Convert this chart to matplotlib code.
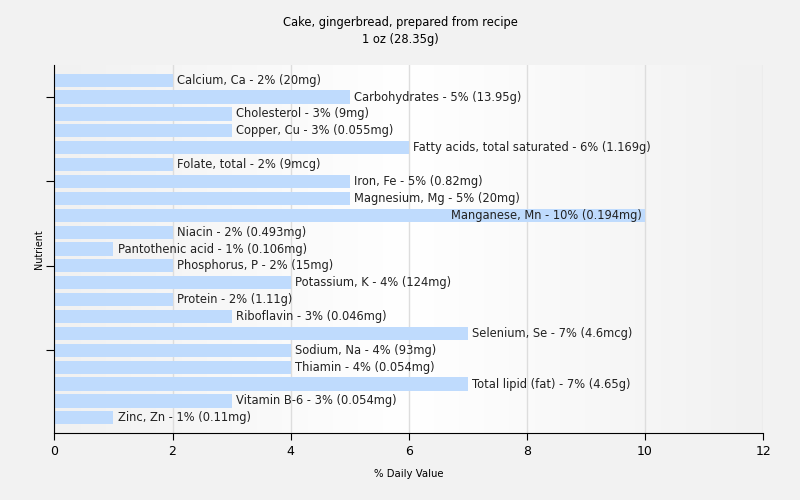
import numpy as np
import matplotlib
matplotlib.use('Agg')
import matplotlib.pyplot as plt

# 데이터
nutrients = ['Calcium, Ca', 'Carbohydrates', 'Cholesterol', 'Copper, Cu',
             'Fatty acids, total saturated', 'Folate, total', 'Iron, Fe',
             'Magnesium, Mg', 'Manganese, Mn', 'Niacin', 'Pantothenic acid',
             'Phosphorus, P', 'Potassium, K', 'Protein', 'Riboflavin',
             'Selenium, Se', 'Sodium, Na', 'Thiamin', 'Total lipid (fat)',
             'Vitamin B-6', 'Zinc, Zn']
dv = [2, 5, 3, 3, 6, 2, 5, 5, 10, 2, 1, 2, 4, 2, 3, 7, 4, 4, 7, 3, 1]
amounts = ['20mg', '13.95g', '9mg', '0.055mg', '1.169g', '9mcg', '0.82mg',
           '20mg', '0.194mg', '0.493mg', '0.106mg', '15mg', '124mg', '1.11g',
           '0.046mg', '4.6mcg', '93mg', '0.054mg', '4.65g', '0.054mg', '0.11mg']
tick_idx = [1, 6, 11, 16]

plt.rcParams['font.family'] = ['DejaVu Sans']

fig = plt.figure(figsize=(8, 5), dpi=100, facecolor='#f2f2f2')
ax = fig.add_axes([0.068, 0.134, 0.886, 0.736])

ax.set_xlim(0, 12)
ax.set_ylim(len(nutrients) - 0.1, -0.9)

# 배경 그라데이션 (회색 -> 흰색 -> 회색), RGB 로 직접 생성
xs = np.linspace(0, 1, 400)
shade = 1 - (0.955 - 0.0) * 0 - 0.055 * np.abs(xs - 0.5) * 2
rgb = np.zeros((2, 400, 3))
rgb[:, :, 0] = shade
rgb[:, :, 1] = shade
rgb[:, :, 2] = shade
ax.imshow(rgb, aspect='auto', interpolation='bilinear',
          extent=[0, 12, len(nutrients) - 0.1, -0.9], zorder=0)

y = np.arange(len(nutrients))
ax.barh(y, dv, height=0.78, color='#bfdbfd', zorder=2)

for i in range(len(nutrients)):
    label = f'{nutrients[i]} - {dv[i]}% ({amounts[i]})'
    if dv[i] >= 9:
        ax.text(dv[i] - 0.05, y[i], label, ha='right', va='center',
                fontsize=8.3, color='#222222', zorder=3)
    else:
        ax.text(dv[i] + 0.07, y[i], label, ha='left', va='center',
                fontsize=8.3, color='#222222', zorder=3)

ax.set_xlim(0, 12)
ax.set_ylim(len(nutrients) - 0.1, -0.9)
ax.set_xticks(range(0, 13, 2))
ax.set_yticks(tick_idx)
ax.set_yticklabels([])
ax.grid(axis='x', color='#dddddd', linewidth=1, zorder=1)

for s in ['top', 'right']:
    ax.spines[s].set_visible(False)
ax.spines['left'].set_color('black')
ax.spines['bottom'].set_color('black')
ax.spines['left'].set_zorder(4)
ax.spines['bottom'].set_zorder(4)
ax.tick_params(axis='x', labelsize=9, length=5, color='black')
ax.tick_params(axis='y', length=6, color='black')

ax.set_xlabel('% Daily Value', fontsize=7.3, labelpad=8)
ax.set_ylabel('Nutrient', fontsize=6.9, labelpad=-2)
fig.text(0.5, 0.955, 'Cake, gingerbread, prepared from recipe', ha='center',
         va='center', fontsize=8.3)
fig.text(0.5, 0.92, '1 oz (28.35g)', ha='center', va='center', fontsize=8.3)

fig.savefig('out.png', dpi=100, facecolor=fig.get_facecolor())
